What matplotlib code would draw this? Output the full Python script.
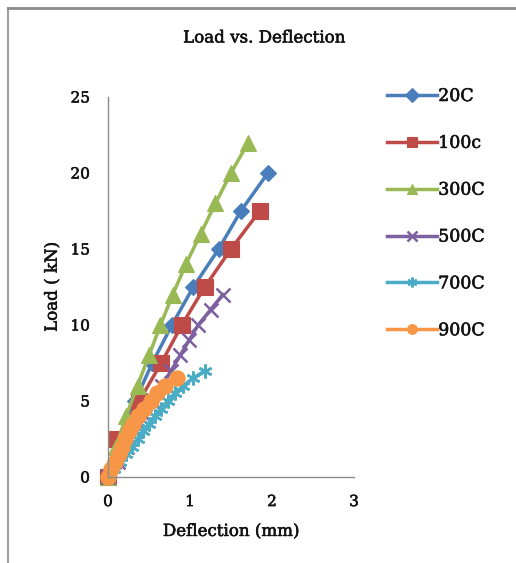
import matplotlib
matplotlib.use("Agg")
import matplotlib.pyplot as plt
import matplotlib.patheffects as pe
from matplotlib.lines import Line2D

# ---- data ----
series_names = ["20C", "100c", "300C", "500C", "700C", "900C"]

load_20 = [0, 2.5, 5, 7.5, 10, 12.5, 15, 17.5, 20]
defl_20 = [0, 0.13, 0.33, 0.54, 0.78, 1.04, 1.35, 1.62, 1.95]

load_100 = [0, 2.5, 5, 7.5, 10, 12.5, 15, 17.5]
defl_100 = [0, 0.11, 0.38, 0.65, 0.90, 1.18, 1.50, 1.85]

load_300 = [0, 2, 4, 6, 8, 10, 12, 14, 16, 18, 20, 22]
defl_300 = [0, 0.10, 0.22, 0.36, 0.50, 0.64, 0.79, 0.95, 1.13, 1.31, 1.50, 1.71]

load_500 = [0, 1, 2, 3, 4, 5, 6, 7, 8, 9, 10, 11, 12]
defl_500 = [0, 0.12, 0.23, 0.34, 0.45, 0.55, 0.66, 0.77, 0.88, 0.99, 1.10, 1.25, 1.40]

load_700 = [0, 0.5, 1, 1.5, 2, 2.5, 3, 3.5, 4, 4.5, 5, 5.5, 6, 6.5, 7]
defl_700 = [0, 0.07, 0.15, 0.22, 0.29, 0.36, 0.43, 0.50, 0.57, 0.65, 0.73, 0.82, 0.92, 1.04, 1.18]

load_900 = [0, 0.5, 1, 1.5, 2, 2.5, 3, 3.5, 4, 4.5, 5, 5.5, 6, 6.5]
defl_900 = [0, 0.04, 0.09, 0.13, 0.17, 0.21, 0.25, 0.30, 0.36, 0.44, 0.52, 0.60, 0.70, 0.84]

x_ticks = [0, 1, 2, 3]
y_ticks = [0, 5, 10, 15, 20, 25]

# ---- style ----
colors = ["#4A7EBB", "#BE4B48", "#98B954", "#7D60A0", "#4BACC6", "#F79646"]
markers = ["D", "s", "^", "x", (6, 2, 0), "o"]
msizes = [8.5, 11, 11, 10, 10, 11]
txt_color = "#111111"
thick = [pe.withStroke(linewidth=0.4, foreground=txt_color)]

plt.rcParams['font.family'] = ['DejaVu Serif']

fig = plt.figure(figsize=(5.16, 5.63), dpi=100)
ax = fig.add_axes([108/516, 86/563, 246/516, 380/563])

data = [(defl_20, load_20), (defl_100, load_100), (defl_300, load_300),
        (defl_500, load_500), (defl_700, load_700), (defl_900, load_900)]

for (xs, ys), name, c, m, ms in zip(data, series_names, colors, markers, msizes):
    ax.plot(xs, ys, color=c, lw=2.5, marker=m, markersize=ms,
            markeredgewidth=1.8 if m in ("x", (6, 2, 0)) else 0.8,
            markeredgecolor=c, markerfacecolor=c, label=name, clip_on=False)

ax.set_xlim(0, 3)
ax.set_ylim(0, 25)
ax.set_xticks(x_ticks)
ax.set_yticks(y_ticks)
for s in ["top", "right"]:
    ax.spines[s].set_visible(False)
for s in ["left", "bottom"]:
    ax.spines[s].set_color("#8C8C8C")
    ax.spines[s].set_linewidth(1.0)
ax.tick_params(length=0, labelsize=11, pad=13, labelcolor=txt_color)
for lab in ax.get_xticklabels() + ax.get_yticklabels():
    lab.set_path_effects(thick)

xl = ax.set_xlabel("Deflection (mm)", fontsize=12, color=txt_color, labelpad=10)
yl = ax.set_ylabel("Load ( kN)", fontsize=12, color=txt_color, labelpad=7)
xl.set_path_effects(thick)
yl.set_path_effects(thick)
tt = fig.text(264/516, 1 - 38/563, "Load vs. Deflection", ha="center", va="center",
              fontsize=12, color=txt_color)
tt.set_path_effects(thick)

leg = fig.legend(loc="upper left", bbox_to_anchor=(387/516, 1 - 88/563),
                 frameon=False, fontsize=12.5, handlelength=2.9, handletextpad=0.05,
                 labelspacing=1.72, borderaxespad=0, borderpad=0)
for t in leg.get_texts():
    t.set_color(txt_color)
    t.set_path_effects(thick)
for h in leg.legend_handles:
    h.set_markersize(7)

# frame border (top and left edges)
fig.add_artist(Line2D([8/516, 8/516], [0, 1 - 8/563], transform=fig.transFigure,
                      color="#A0A0A0", lw=1.5))
fig.add_artist(Line2D([8/516, 1], [1 - 8/563, 1 - 8/563], transform=fig.transFigure,
                      color="#8A8A8A", lw=2))

fig.savefig("out.png", dpi=100)
